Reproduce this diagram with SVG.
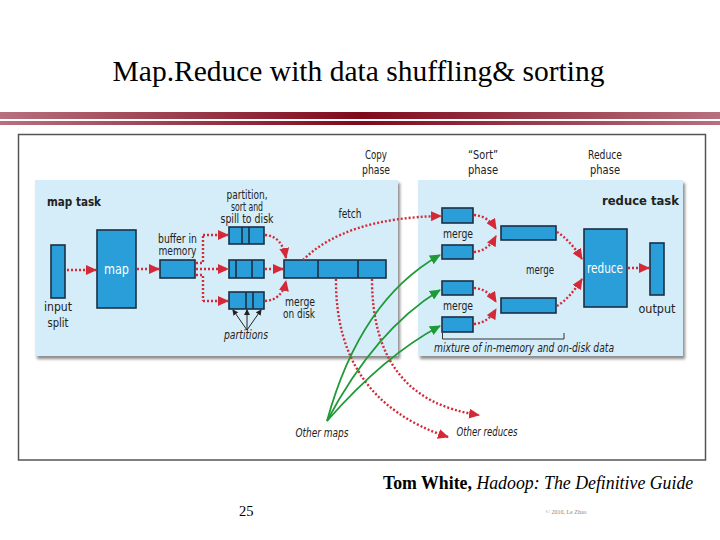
<svg xmlns="http://www.w3.org/2000/svg" width="720" height="540" viewBox="0 0 720 540">
<defs>
<linearGradient id="bar" x1="0" x2="1" y1="0" y2="0">
<stop offset="0" stop-color="#b8707e"/>
<stop offset="0.5" stop-color="#7e0a1c"/>
<stop offset="1" stop-color="#b8707e"/>
</linearGradient>
<marker id="ra" markerWidth="11" markerHeight="10" refX="10" refY="5" orient="auto" markerUnits="userSpaceOnUse">
<path d="M0,0 L11,5 L0,10 Z" fill="#d42a38"/>
</marker>
<marker id="ga" markerWidth="11" markerHeight="10" refX="10" refY="5" orient="auto" markerUnits="userSpaceOnUse">
<path d="M0,0 L11,5 L0,10 Z" fill="#1e9a36"/>
</marker>
<marker id="ka" markerWidth="6" markerHeight="6" refX="5" refY="3" orient="auto" markerUnits="userSpaceOnUse">
<path d="M0,0 L6,3 L0,6 Z" fill="#222"/>
</marker>
<filter id="sh" x="-5%" y="-5%" width="115%" height="115%">
<feGaussianBlur stdDeviation="1.5"/>
</filter>
</defs>
<style>
.t{font-family:"DejaVu Sans Condensed","Liberation Sans",sans-serif;font-size:12px;fill:#222;text-anchor:middle}
.s{text-anchor:start}
.e{text-anchor:end}
.b{font-weight:bold}
.i{font-style:italic}
.w{fill:#fff;font-size:14px}
.box{fill:#2a9ed8;stroke:#1b2f44;stroke-width:1.6}
.div{stroke:#1b2f44;stroke-width:1.6}
.panel{fill:#d5edf8}
.shadow{fill:#8a8a8a;filter:url(#sh)}
.rd{fill:none;stroke:#d42a38;stroke-width:2.4;stroke-dasharray:2 2;marker-end:url(#ra)}
.rdn{fill:none;stroke:#d42a38;stroke-width:2.4;stroke-dasharray:2 2}
.gr{fill:none;stroke:#1e9a36;stroke-width:1.8;marker-end:url(#ga)}
.bk{fill:none;stroke:#222;stroke-width:1;marker-end:url(#ka)}
.serif{font-family:"Liberation Serif","Times New Roman",serif;fill:#000}
</style>
<rect width="720" height="540" fill="#fff"/>
<text class="serif" x="358.5" y="81" font-size="29.5" text-anchor="middle">Map.Reduce with data shuffling&amp; sorting</text>
<rect x="0" y="112" width="720" height="7" fill="url(#bar)"/>
<rect x="0" y="121" width="720" height="4" fill="url(#bar)"/>
<rect x="18.5" y="134.5" width="687" height="325.5" fill="#fff" stroke="#555" stroke-width="1.5"/>

<g id="map-panel">
<rect class="shadow" x="37" y="183" width="363" height="176"/>
<rect class="panel" x="35" y="180" width="363" height="176"/>
<text class="t b s" x="47" y="206" font-size="14.5" textLength="54" lengthAdjust="spacingAndGlyphs">map task</text>
</g>
<g id="reduce-panel">
<rect class="shadow" x="420" y="183" width="265" height="176"/>
<rect class="panel" x="418" y="180" width="265" height="176"/>
<text class="t b e" x="679" y="205" font-size="14.5" textLength="77" lengthAdjust="spacingAndGlyphs">reduce task</text>
</g>

<g id="phases">
<text class="t" x="376" y="159" textLength="22" lengthAdjust="spacingAndGlyphs">Copy</text>
<text class="t" x="376" y="174" textLength="28" lengthAdjust="spacingAndGlyphs">phase</text>
<text class="t" x="483" y="159" textLength="30" lengthAdjust="spacingAndGlyphs">“Sort”</text>
<text class="t" x="483" y="174" textLength="30" lengthAdjust="spacingAndGlyphs">phase</text>
<text class="t" x="605" y="159" textLength="34" lengthAdjust="spacingAndGlyphs">Reduce</text>
<text class="t" x="605" y="174" textLength="30" lengthAdjust="spacingAndGlyphs">phase</text>
</g>

<g id="input-split">
<rect class="box" x="51" y="245" width="14" height="53"/>
<text class="t" x="58" y="311" font-size="14" textLength="28" lengthAdjust="spacingAndGlyphs">input</text>
<text class="t" x="58" y="327" font-size="14" textLength="21" lengthAdjust="spacingAndGlyphs">split</text>
</g>
<g id="map">
<rect class="box" x="97" y="230" width="39" height="78"/>
<text class="t w" x="116.5" y="274" textLength="25" lengthAdjust="spacingAndGlyphs">map</text>
</g>
<g id="buffer">
<rect class="box" x="160" y="260" width="35" height="18"/>
<text class="t" x="177.5" y="243" textLength="39" lengthAdjust="spacingAndGlyphs">buffer in</text>
<text class="t" x="177.5" y="255" textLength="38" lengthAdjust="spacingAndGlyphs">memory</text>
</g>
<g id="spill">
<text class="t" x="247" y="199" textLength="41" lengthAdjust="spacingAndGlyphs">partition,</text>
<text class="t" x="247" y="211" textLength="32" lengthAdjust="spacingAndGlyphs">sort and</text>
<text class="t" x="247" y="223" textLength="53" lengthAdjust="spacingAndGlyphs">spill to disk</text>
<rect class="box" x="229" y="227" width="35" height="17"/>
<line class="div" x1="242" y1="227" x2="242" y2="244"/>
<line class="div" x1="249" y1="227" x2="249" y2="244"/>
<rect class="box" x="229" y="260" width="35" height="18"/>
<line class="div" x1="236" y1="260" x2="236" y2="278"/>
<line class="div" x1="252" y1="260" x2="252" y2="278"/>
<rect class="box" x="229" y="292" width="35" height="17"/>
<line class="div" x1="246" y1="292" x2="246" y2="309"/>
<line class="div" x1="253" y1="292" x2="253" y2="309"/>
<text class="t i" x="246" y="339" textLength="44" lengthAdjust="spacingAndGlyphs">partitions</text>
</g>
<g id="merged">
<rect class="box" x="284" y="260" width="102" height="18"/>
<line class="div" x1="318" y1="260" x2="318" y2="278"/>
<line class="div" x1="358" y1="260" x2="358" y2="278"/>
<text class="t" x="300" y="306" textLength="30" lengthAdjust="spacingAndGlyphs">merge</text>
<text class="t" x="299" y="318" textLength="32" lengthAdjust="spacingAndGlyphs">on disk</text>
<text class="t" x="350" y="218" textLength="23" lengthAdjust="spacingAndGlyphs">fetch</text>
</g>

<g id="reduce-merge">
<rect class="box" x="442" y="208" width="31" height="15"/>
<text class="t" x="458" y="238" textLength="30" lengthAdjust="spacingAndGlyphs">merge</text>
<rect class="box" x="442" y="245" width="31" height="14"/>
<rect class="box" x="442" y="281" width="31" height="14"/>
<text class="t" x="458" y="310" textLength="30" lengthAdjust="spacingAndGlyphs">merge</text>
<rect class="box" x="442" y="317" width="31" height="15"/>
<rect class="box" x="501" y="226" width="55" height="14"/>
<rect class="box" x="501" y="298" width="55" height="15"/>
<text class="t" x="540" y="274" textLength="28" lengthAdjust="spacingAndGlyphs">merge</text>
<path d="M442.5,333 V339 H564 V333" fill="none" stroke="#333" stroke-width="1"/>
<text class="t i s" x="434" y="352" textLength="180" lengthAdjust="spacingAndGlyphs">mixture of in-memory and on-disk data</text>
</g>
<g id="reduce">
<rect class="box" x="584" y="229" width="43" height="78"/>
<text class="t w" x="605" y="273" textLength="36" lengthAdjust="spacingAndGlyphs">reduce</text>
</g>
<g id="output">
<rect class="box" x="650" y="243" width="14" height="52"/>
<text class="t" x="657" y="313" font-size="14" textLength="37" lengthAdjust="spacingAndGlyphs">output</text>
</g>
<g id="others">
<text class="t i" x="322" y="437" textLength="53" lengthAdjust="spacingAndGlyphs">Other maps</text>
<text class="t i" x="487" y="436" textLength="61" lengthAdjust="spacingAndGlyphs">Other reduces</text>
</g>

<g id="connectors">
<path class="rd" d="M67,270 H96"/>
<path class="rd" d="M137,269 H159"/>
<path class="rdn" d="M196,263 H203 V235"/>
<path class="rd" d="M203,235 H228"/>
<path class="rd" d="M196,269 H228"/>
<path class="rdn" d="M196,275 H203 V301"/>
<path class="rd" d="M203,301 H228"/>
<path class="rd" d="M265,235 Q282,236 286,258"/>
<path class="rd" d="M265,269 H283"/>
<path class="rd" d="M265,301 Q282,300 286,281"/>
<path class="bk" d="M247,330 L233,310"/>
<path class="bk" d="M247,330 L247,310"/>
<path class="bk" d="M247,330 L261,310"/>
<path class="rd" d="M303,260 Q345,218 441,216"/>
<path class="rd" d="M336,279 Q335,400 448,437"/>
<path class="rd" d="M372,279 Q372,400 479,415"/>
<path class="gr" d="M327,421 Q360,300 440,255"/>
<path class="gr" d="M327,421 Q375,330 440,290"/>
<path class="gr" d="M327,421 Q385,355 440,326"/>
<path class="rd" d="M474,215 Q488,216 496,229"/>
<path class="rd" d="M474,252 Q488,251 496,236"/>
<path class="rd" d="M474,288 Q488,289 496,302"/>
<path class="rd" d="M474,324 Q488,323 496,309"/>
<path class="rd" d="M557,232 Q570,240 582,259"/>
<path class="rd" d="M557,306 Q570,298 582,279"/>
<path class="rd" d="M628,268 H649"/>
</g>

<text class="serif" x="383" y="489" font-size="17.8"><tspan font-weight="bold">Tom White,</tspan><tspan font-style="italic"> Hadoop: The Definitive Guide</tspan></text>
<text class="serif" x="239" y="516" font-size="14.5">25</text>
<text class="serif" x="566" y="514" font-size="6" text-anchor="middle" style="fill:#888">© 2010, Le Zhao</text>
</svg>
